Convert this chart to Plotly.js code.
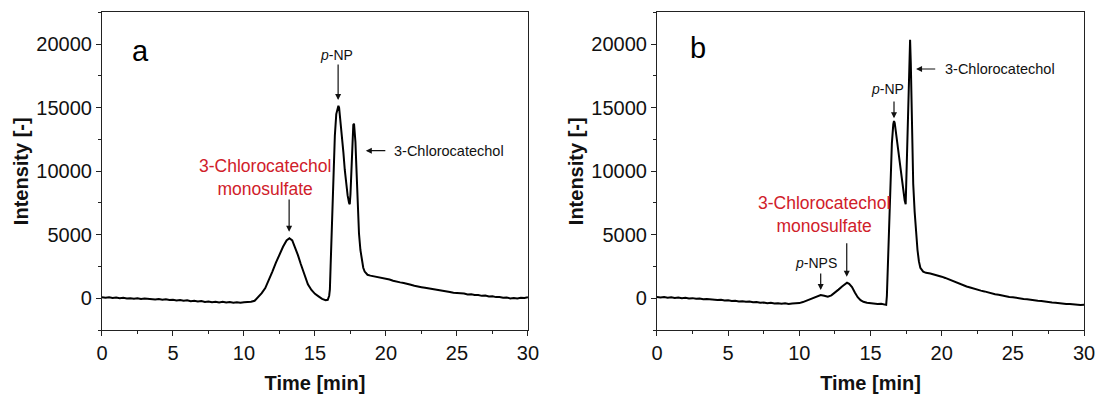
<!DOCTYPE html>
<html>
<head>
<meta charset="utf-8">
<script src="https://cdn.plot.ly/plotly-3.0.1.min.js"></script>
<style>html,body{margin:0;padding:0;background:#fff;}#chart{width:1099px;height:394px;}</style>
</head>
<body>
<div id="chart"></div>
<script>
// ---- Data ----
const timeA = [0,0.25,0.5,0.75,1,1.25,1.5,1.75,2,2.25,2.5,2.75,3,3.25,3.5,3.75,4,4.25,4.5,4.75,5,5.25,5.5,5.75,6,6.25,6.5,6.75,7,7.25,7.5,7.75,8,8.25,8.5,8.75,9,9.25,9.5,9.75,10,10.25,10.5,10.75,11,11.25,11.5,11.75,12,12.25,12.5,12.75,13,13.2,13.4,13.6,13.8,14,14.25,14.5,14.75,15,15.25,15.5,15.75,15.9,16.0,16.05,16.1,16.2,16.3,16.4,16.5,16.6,16.65,16.7,16.8,16.9,17.0,17.1,17.2,17.3,17.4,17.45,17.5,17.55,17.6,17.65,17.7,17.75,17.8,17.85,17.9,17.95,18.0,18.1,18.2,18.3,18.4,18.5,18.7,18.9,19.2,19.5,19.75,20,20.25,20.5,20.75,21,21.25,21.5,21.75,22,22.25,22.5,22.75,23,23.25,23.5,23.75,24,24.25,24.5,24.75,25,25.25,25.5,25.75,26,26.25,26.5,26.75,27,27.25,27.5,27.75,28,28.25,28.5,28.75,29,29.25,29.5,29.75,30];
const intensityA = [80,40,70,20,50,0,30,-20,10,-30,0,-50,-20,-60,-40,-90,-60,-110,-80,-140,-120,-170,-130,-200,-160,-230,-200,-260,-220,-290,-250,-310,-270,-330,-280,-340,-300,-350,-310,-360,-320,-330,-280,-200,100,400,800,1400,2100,2800,3450,4050,4550,4720,4550,4000,3400,2700,1850,1100,650,350,150,-50,-150,-120,200,700,2500,6000,9700,12800,14500,15100,15150,15000,14000,12900,11500,10100,9000,8100,7500,7400,8200,9800,11600,13000,13650,13750,13200,12300,10800,8900,7200,5100,3800,2900,2400,2100,1850,1780,1720,1650,1600,1520,1480,1380,1340,1250,1200,1100,1060,980,950,870,820,780,700,680,600,590,520,500,430,420,360,370,300,310,250,260,190,210,140,150,90,100,40,60,-10,20,-20,40,20,80];

const timeB = [0,0.25,0.5,0.75,1,1.25,1.5,1.75,2,2.25,2.5,2.75,3,3.25,3.5,3.75,4,4.25,4.5,4.75,5,5.25,5.5,5.75,6,6.25,6.5,6.75,7,7.25,7.5,7.75,8,8.25,8.5,8.75,9,9.25,9.5,9.75,10,10.25,10.5,10.75,11,11.25,11.5,11.75,12,12.25,12.5,12.75,13,13.2,13.35,13.5,13.7,13.9,14.1,14.3,14.5,14.75,15,15.25,15.5,15.75,16.0,16.1,16.15,16.2,16.3,16.4,16.5,16.6,16.65,16.7,16.8,16.9,17.0,17.1,17.2,17.3,17.4,17.47,17.52,17.58,17.63,17.68,17.73,17.78,17.83,17.88,17.93,18.0,18.1,18.2,18.3,18.4,18.5,18.7,18.9,19.2,19.5,19.75,20,20.25,20.5,20.75,21,21.25,21.5,21.75,22,22.25,22.5,22.75,23,23.25,23.5,23.75,24,24.25,24.5,24.75,25,25.25,25.5,25.75,26,26.25,26.5,26.75,27,27.25,27.5,27.75,28,28.25,28.5,28.75,29,29.25,29.5,29.75,30];
const intensityB = [100,60,90,40,70,20,50,0,30,-10,10,-40,-20,-70,-50,-100,-90,-140,-120,-180,-160,-210,-190,-250,-230,-280,-260,-320,-300,-360,-330,-390,-360,-420,-390,-440,-400,-450,-410,-420,-380,-300,-180,-40,80,200,260,200,130,230,420,680,920,1100,1220,1130,880,450,80,-150,-280,-360,-400,-430,-460,-440,-500,-520,200,2200,5600,9100,12200,13700,13950,13800,12900,12100,11200,10300,9400,8500,7700,7400,9500,12500,15500,18200,19800,20350,18500,15800,12500,9000,6800,5100,3800,2900,2400,2100,2000,1950,1870,1800,1700,1600,1480,1400,1280,1150,1050,930,850,750,690,600,540,450,400,320,280,200,160,100,80,20,0,-60,-70,-130,-140,-200,-210,-270,-280,-340,-350,-400,-410,-450,-460,-500,-490,-530,-520];

const xTickVals = [0,5,10,15,20,25,30];
const yTickVals = [0,5000,10000,15000,20000];
const xTitle = 'Time [min]';
const yTitle = 'Intensity [-]';
const redLabel = '3-Chlorocatechol<br>monosulfate';

// ---- Styling ----
const FONT = 'Arial, "Liberation Sans", Helvetica, sans-serif';
const RED = '#d0202a';

function axisX(domain, anchor) {
  return {
    domain: domain, anchor: anchor, range: [0, 30], tickvals: xTickVals,
    showline: true, mirror: true, linecolor: '#222', linewidth: 1,
    ticks: 'outside', ticklen: 5, tickwidth: 1, tickcolor: '#222',
    minor: {dtick: 2.5, ticks: 'outside', ticklen: 3, tickwidth: 1, tickcolor: '#222'},
    showgrid: false, zeroline: false, automargin: false,
    tickfont: {family: FONT, size: 20, color: '#111'},
    title: {text: '<b>' + xTitle + '</b>', font: {family: FONT, size: 20, color: '#111'}, standoff: 13}
  };
}
function axisY(anchor) {
  return {
    domain: [0.1624, 0.9683], anchor: anchor, range: [-2500, 22500], tickvals: yTickVals,
    tickformat: 'd',
    showline: true, mirror: true, linecolor: '#222', linewidth: 1,
    ticks: 'outside', ticklen: 5, tickwidth: 1, tickcolor: '#222',
    minor: {dtick: 2500, ticks: 'outside', ticklen: 3, tickwidth: 1, tickcolor: '#222'},
    showgrid: false, zeroline: false, automargin: false,
    tickfont: {family: FONT, size: 20, color: '#111'},
    title: {text: '<b>' + yTitle + '</b>', font: {family: FONT, size: 20, color: '#111'}, standoff: 2}
  };
}

const traces = [
  {x: timeA, y: intensityA, xaxis: 'x', yaxis: 'y', type: 'scatter', mode: 'lines',
   line: {color: '#000', width: 2}, hoverinfo: 'skip', showlegend: false},
  {x: timeB, y: intensityB, xaxis: 'x2', yaxis: 'y2', type: 'scatter', mode: 'lines',
   line: {color: '#000', width: 2}, hoverinfo: 'skip', showlegend: false}
];

function label(xr, yr, x, y, text, size, color, xanchor) {
  return {xref: xr, yref: yr, x: x, y: y, text: text, showarrow: false,
    xanchor: xanchor || 'center', yanchor: 'middle',
    font: {family: FONT, size: size, color: color || '#111'}};
}
function arrow(xr, yr, x, y, ax, ay) {
  return {xref: xr, yref: yr, axref: xr, ayref: yr, x: x, y: y, ax: ax, ay: ay, text: '',
    showarrow: true, arrowhead: 2, arrowsize: 1, arrowwidth: 1.2, arrowcolor: '#111', standoff: 0, startstandoff: 0};
}

const annotations = [
  // panel a
  label('x', 'y', 2.0, 19500, 'a', 29, '#000', 'left'),
  label('x', 'y', 16.5, 19150, '<i>p</i>-NP', 14),
  arrow('x', 'y', 16.63, 15610, 16.63, 18520),
  label('x', 'y', 20.39, 11620, '3-Chlorocatechol', 14.5, '#111', 'left'),
  arrow('x', 'y', 18.58, 11620, 20.06, 11620),
  label('x', 'y', 11.5, 9530, redLabel, 17.5, RED),
  arrow('x', 'y', 13.18, 5240, 13.18, 7890),
  // panel b
  label('x2', 'y2', 2.18, 19670, 'b', 29, '#000', 'left'),
  label('x2', 'y2', 20.12, 18050, '3-Chlorocatechol', 14.5, '#111', 'left'),
  arrow('x2', 'y2', 18.2, 18050, 19.65, 18050),
  label('x2', 'y2', 16.22, 16450, '<i>p</i>-NP', 14),
  arrow('x2', 'y2', 16.65, 14170, 16.65, 15610),
  label('x2', 'y2', 11.7, 6630, redLabel, 17.5, RED),
  arrow('x2', 'y2', 13.33, 1700, 13.33, 4450),
  label('x2', 'y2', 11.18, 2750, '<i>p</i>-NPS', 14),
  arrow('x2', 'y2', 11.5, 650, 11.5, 2070)
];

const layout = {
  width: 1099, height: 394,
  margin: {l: 0, r: 0, t: 0, b: 0},
  paper_bgcolor: '#fff', plot_bgcolor: '#fff',
  font: {family: FONT, color: '#111'},
  showlegend: false,
  xaxis: axisX([0.0928, 0.4804], 'y'),
  yaxis: axisY('x'),
  xaxis2: axisX([0.5978, 0.9864], 'y2'),
  yaxis2: axisY('x2'),
  annotations: annotations
};

Plotly.newPlot('chart', traces, layout, {displayModeBar: false, staticPlot: true});
</script>
</body>
</html>
